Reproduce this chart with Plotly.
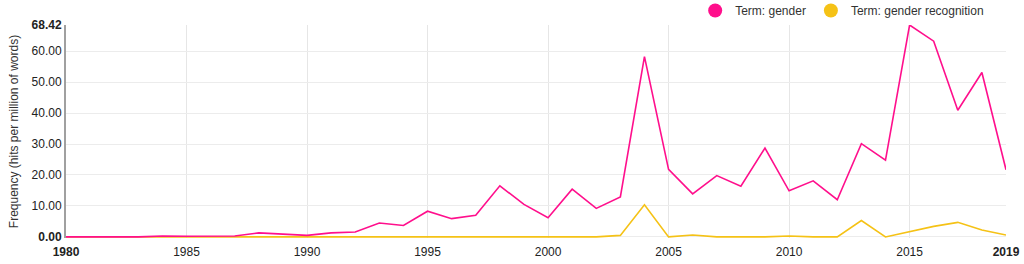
import plotly.graph_objects as go

years = list(range(1980, 2020))
gender = [0.0, 0.1, 0.0, 0.0, 0.3, 0.2, 0.2, 0.3, 1.3, 1.0,
          0.5, 1.3, 1.6, 4.5, 3.7, 8.3, 5.9, 7.0, 16.5, 10.5,
          6.2, 15.4, 9.2, 12.9, 58.2, 21.8, 13.9, 19.8, 16.4, 28.7,
          14.9, 18.1, 12.0, 30.1, 24.8, 68.42, 63.2, 40.9, 53.1, 21.7]
gender_recognition = [0.0, 0.0, 0.0, 0.0, 0.0, 0.0, 0.0, 0.0, 0.0, 0.0,
                      0.0, 0.0, 0.0, 0.0, 0.0, 0.0, 0.0, 0.0, 0.0, 0.0,
                      0.0, 0.0, 0.0, 0.5, 10.4, 0.0, 0.6, 0.0, 0.0, 0.0,
                      0.3, 0.0, 0.0, 5.3, 0.0, 1.8, 3.4, 4.7, 2.2, 0.6]
series_names = ["Term: gender", "Term: gender recognition"]
colors = ["#ff0f8c", "#f5c216"]

y_max = 68.42
x_grid = [1985, 1990, 1995, 2000, 2005, 2010, 2015]
y_grid = [0, 10, 20, 30, 40, 50, 60]
x_ticks = [1980, 1985, 1990, 1995, 2000, 2005, 2010, 2015, 2019]
x_text = ["<b>1980</b>", "1985", "1990", "1995", "2000", "2005", "2010", "2015", "<b>2019</b>"]
y_ticks = [0, 10, 20, 30, 40, 50, 60, 68.42]
y_text = ["<b>0.00</b>", "10.00", "20.00", "30.00", "40.00", "50.00", "60.00", "<b>68.42</b>"]

font = "Liberation Sans, Arial, sans-serif"
y_lo = -0.35

fig = go.Figure()
# grid-only axes (x, y)
fig.add_trace(go.Scatter(x=[None], y=[None], xaxis="x", yaxis="y", showlegend=False, hoverinfo="skip"))
# data on label axes (x2, y2)
for vals, name, col in [(gender_recognition, series_names[1], colors[1]), (gender, series_names[0], colors[0])]:
    fig.add_trace(go.Scatter(x=years, y=vals, mode="lines", line=dict(color=col, width=1.6),
                             name=name, showlegend=False, xaxis="x2", yaxis="y2"))
for name, col in zip(series_names, colors):
    fig.add_trace(go.Scatter(x=[None], y=[None], mode="markers", name=name,
                             marker=dict(color=col, size=14, symbol="circle"),
                             xaxis="x2", yaxis="y2"))

fig.update_layout(
    width=1024, height=264,
    margin=dict(l=66, r=18, t=25, b=26, autoexpand=False),
    paper_bgcolor="white", plot_bgcolor="white",
    font=dict(family=font, size=12, color="#333333"),
    xaxis=dict(range=[1980, 2019], tickvals=x_grid, showticklabels=False, showgrid=True,
               gridcolor="#e6e6e6", gridwidth=1, zeroline=False, showline=False, ticks=""),
    yaxis=dict(range=[y_lo, y_max], tickvals=y_grid, showticklabels=False, showgrid=True,
               gridcolor="#ececec", gridwidth=1, zeroline=False, showline=False, ticks=""),
    xaxis2=dict(range=[1980, 2019], overlaying="x", anchor="y2", tickvals=x_ticks, ticktext=x_text,
                showgrid=False, zeroline=False, showline=False, ticks="", ticklabelstandoff=5,
                tickfont=dict(family=font, size=12, color="#222222")),
    yaxis2=dict(range=[y_lo, y_max], overlaying="y", anchor="x2", side="left", tickvals=y_ticks, ticktext=y_text,
                showgrid=False, zeroline=False, showline=True, linecolor="#a0a0a0", linewidth=2,
                ticks="", tickfont=dict(family=font, size=12, color="#222222"),
                title=dict(text="Frequency (hits per million of words)", font=dict(family=font, size=12, color="#333333"),
                           standoff=10)),
    legend=dict(orientation="h", xref="container", yref="paper", x=0.966, xanchor="right",
                y=1.136, yanchor="top",
                font=dict(family=font, size=12, color="#333333"), bgcolor="rgba(0,0,0,0)",
                itemwidth=30, tracegroupgap=0),
)

fig.write_html("out.html")
